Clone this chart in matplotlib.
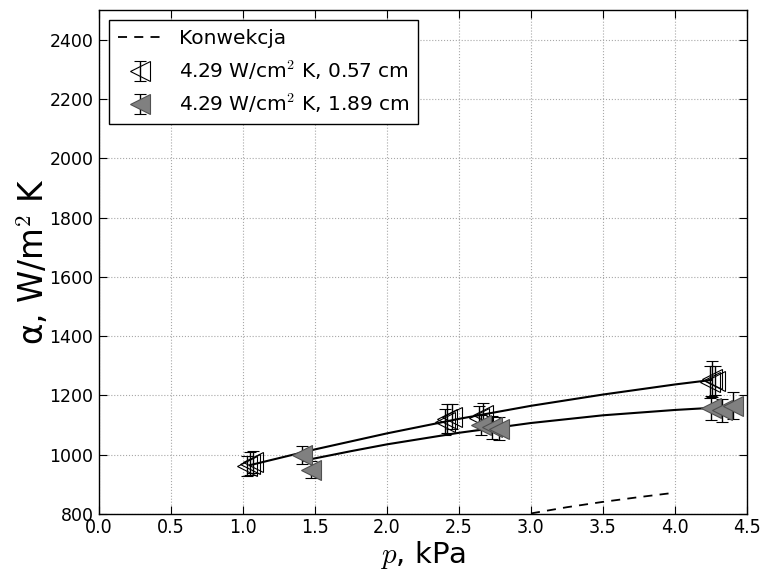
import matplotlib
matplotlib.use("Agg")
import matplotlib.pyplot as plt

plt.rcParams['mathtext.fontset'] = 'cm'
plt.rcParams['font.family'] = ['DejaVu Sans']

# Measured heat transfer coefficient, 0.57 cm sample (open markers)
p_thin = [1.03, 1.05, 1.07, 2.40, 2.42, 2.45, 2.64, 2.67, 4.24, 4.26, 4.28]
alpha_thin = [962, 970, 975, 1110, 1122, 1128, 1125, 1135, 1245, 1255, 1250]
err_thin = [35, 38, 36, 45, 50, 42, 40, 38, 55, 60, 50]

# Measured heat transfer coefficient, 1.89 cm sample (filled markers)
p_thick = [1.41, 1.47, 2.65, 2.73, 2.78, 4.25, 4.33, 4.40]
alpha_thick = [1000, 950, 1100, 1092, 1088, 1158, 1150, 1165]
err_thick = [30, 30, 35, 38, 40, 40, 38, 45]

# Fitted trend curves
p_fit_thin = [1.05, 1.5, 2.0, 2.5, 3.0, 3.5, 4.0, 4.25]
alpha_fit_thin = [965, 1018, 1072, 1121, 1165, 1203, 1237, 1252]
p_fit_thick = [1.42, 1.75, 2.0, 2.5, 3.0, 3.5, 4.0, 4.25]
alpha_fit_thick = [980, 1012, 1035, 1074, 1107, 1133, 1151, 1158]

# Natural convection estimate
p_conv = [3.0, 3.25, 3.5, 3.75, 4.0]
alpha_conv = [802, 823, 841, 857, 872]

x_ticks = [0.0, 0.5, 1.0, 1.5, 2.0, 2.5, 3.0, 3.5, 4.0, 4.5]
y_ticks = [800, 1000, 1200, 1400, 1600, 1800, 2000, 2200, 2400]

label_conv = 'Konwekcja'
label_thin = '4.29 W/cm$^{\\mathsf{2}}$ K, 0.57 cm'
label_thick = '4.29 W/cm$^{\\mathsf{2}}$ K, 1.89 cm'

fig = plt.figure(figsize=(7.63, 5.74), dpi=100)
ax = fig.add_axes([0.1297, 0.1045, 0.8493, 0.878])

conv_line, = ax.plot(p_conv, alpha_conv, 'k--', lw=1.3, dashes=(5, 4))
ax.plot(p_fit_thin, alpha_fit_thin, 'k-', lw=1.5)
ax.plot(p_fit_thick, alpha_fit_thick, 'k-', lw=1.5)

eb_thin = ax.errorbar(p_thin, alpha_thin, yerr=err_thin, fmt='<', ms=14,
                      mfc='none', mec='black', mew=0.8, ecolor='black',
                      elinewidth=1.0, capsize=4, capthick=1.0, zorder=3)
eb_thick = ax.errorbar(p_thick, alpha_thick, yerr=err_thick, fmt='<', ms=14,
                       mfc='#808080', mec='#505050', mew=0.8, ecolor='black',
                       elinewidth=1.0, capsize=4, capthick=1.0, zorder=3)

ax.set_xlim(0, 4.5)
ax.set_ylim(800, 2500)
ax.set_xticks(x_ticks)
ax.set_xticklabels(['%.1f' % v for v in x_ticks])
ax.set_yticks(y_ticks)
ax.set_yticklabels([str(v) for v in y_ticks])

ax.tick_params(direction='in', top=True, right=True, length=6, width=0.8)
ax.tick_params(axis='y', labelsize=12.5, pad=4)
ax.tick_params(axis='x', labelsize=14, pad=3)
for lab in ax.get_xticklabels():
    lab.set_family(['Liberation Sans Narrow', 'DejaVu Sans'])
    lab.set_fontstretch('condensed')
for sp in ax.spines.values():
    sp.set_linewidth(1.0)

ax.grid(True, linestyle=':', color='#a8a8a8', lw=0.8)
ax.set_axisbelow(True)

ax.set_xlabel('$p$, kPa', fontsize=21, labelpad=1)
ax.set_ylabel('α, W/m$^{\\mathsf{2}}$ K', fontsize=23.5)
ax.yaxis.set_label_coords(-0.074, 0.5)

leg = ax.legend([conv_line, eb_thin, eb_thick], [label_conv, label_thin, label_thick],
                loc='upper left', fontsize=14.5, numpoints=1, handlelength=2.2,
                fancybox=False, framealpha=1.0, borderpad=0.45,
                labelspacing=0.5, handletextpad=0.8, borderaxespad=0.5)
leg.get_frame().set_edgecolor('black')
leg.get_frame().set_linewidth(1.0)

fig.savefig('out.png', dpi=100, facecolor='white')
